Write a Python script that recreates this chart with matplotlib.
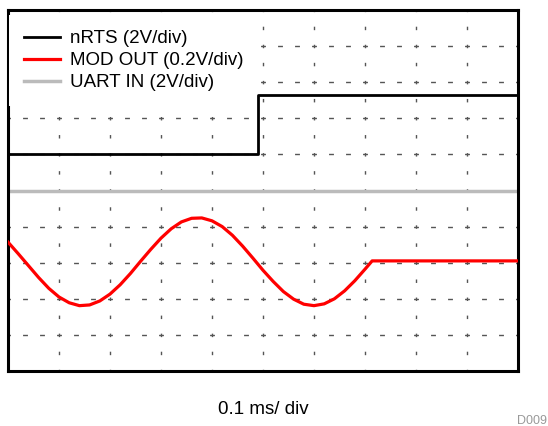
import matplotlib
matplotlib.use("Agg")
import matplotlib.pyplot as plt

plt.rcParams['font.family'] = ['Liberation Sans', 'DejaVu Sans']

# Data in divisions (x: 0..10 time divisions, y: 0..10 vertical divisions)
nrts_x = [0.0, 4.91, 4.91, 10.0]
nrts_y = [6.0, 6.0, 7.65, 7.65]

uart_x = [0.0, 10.0]
uart_y = [5.0, 5.0]

mod_x = [0.0, 0.2, 0.4, 0.6, 0.8, 1.0, 1.2, 1.4, 1.6, 1.8, 2.0, 2.2, 2.4, 2.6,
         2.8, 3.0, 3.2, 3.4, 3.6, 3.8, 4.0, 4.2, 4.4, 4.6, 4.8, 5.0, 5.2, 5.4,
         5.6, 5.8, 6.0, 6.2, 6.4, 6.6, 6.8, 7.0, 7.14, 8.0, 9.0, 10.0]
mod_y = [3.57, 3.25, 2.92, 2.59, 2.29, 2.05, 1.89, 1.81, 1.83, 1.94, 2.13, 2.39,
         2.70, 3.04, 3.37, 3.68, 3.94, 4.13, 4.23, 4.24, 4.16, 4.00, 3.76, 3.46,
         3.13, 2.79, 2.48, 2.20, 1.99, 1.85, 1.81, 1.86, 2.00, 2.22, 2.50, 2.82,
         3.05, 3.05, 3.05, 3.05]

labels = ["nRTS (2V/div)", "MOD OUT (0.2V/div)", "UART IN (2V/div)"]
xlabel = "0.1 ms/ div"
code = "D009"

fig = plt.figure(figsize=(5.48, 4.26), dpi=100)
ax = fig.add_axes([8/548, 1 - 371/426, 510/548, 361/426])
ax.set_xlim(0, 10)
ax.set_ylim(0, 10)

# grid
for i in range(1, 10):
    ax.axvline(i, color='#555555', lw=1.0, linestyle=(1.25, (2.5, 10.5)), zorder=1)
    ax.axhline(i, color='#555555', lw=1.0, linestyle=(1.75, (3.5, 8.74)), zorder=1)

ax.plot(nrts_x, nrts_y, color='black', lw=2.0, label=labels[0], zorder=3)
ax.plot(mod_x, mod_y, color='#ff0000', lw=2.3, label=labels[1], zorder=3)
ax.plot(uart_x, uart_y, color='#bbbbbb', lw=2.5, label=labels[2], zorder=2)

ax.set_xticks([])
ax.set_yticks([])
for s in ax.spines.values():
    s.set_linewidth(2.2)
    s.set_color('black')

leg = ax.legend(loc='upper left', frameon=True, fontsize=13.5, handlelength=1.9,
                handletextpad=0.55, labelspacing=0.26, borderpad=0.8,
                borderaxespad=0, bbox_to_anchor=(0.002, 1 - 5/361), fancybox=False)
leg.get_frame().set_facecolor('white')
leg.get_frame().set_edgecolor('none')
leg.get_frame().set_alpha(1.0)
leg.set_zorder(2.5)

fig.text(263/548, 1 - 410/426, xlabel, ha='center', va='center', fontsize=13.5)
fig.text(532/548, 1 - 421/426, code, ha='center', va='center', fontsize=9, color='#999999')

fig.savefig("out.png", dpi=100)
